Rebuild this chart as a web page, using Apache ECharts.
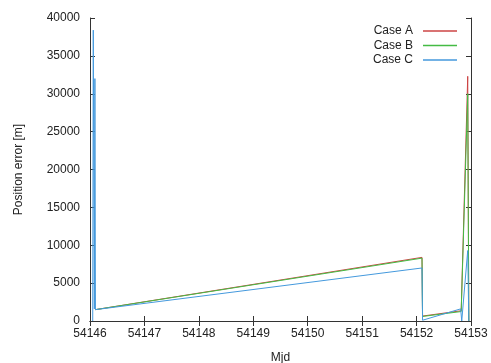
<!DOCTYPE html>
<html>
<head>
<meta charset="utf-8">
<script src="https://cdn.jsdelivr.net/npm/echarts@6/dist/echarts.min.js"></script>
<style>html,body{margin:0;padding:0;background:#fff}#c{width:491px;height:363px}</style>
</head>
<body>
<div id="c"></div>
<script>
const seriesNames = ['Case A', 'Case B', 'Case C'];
const colors = ['#cc4444', '#44bb44', '#4499dd'];
const xTicks = [54146, 54147, 54148, 54149, 54150, 54151, 54152, 54153];
const yTicks = [0, 5000, 10000, 15000, 20000, 25000, 30000, 35000, 40000];

const caseAMjd = [54146.10, 54152.10, 54152.11, 54152.82, 54152.94, 54152.96];
const caseAErr = [1500, 8400, 650, 1350, 32300, 0];
const caseBMjd = [54146.10, 54152.10, 54152.11, 54152.82, 54152.94, 54152.96];
const caseBErr = [1500, 8300, 600, 1250, 30000, 0];
const caseCMjd = [54146.05, 54146.06, 54146.08, 54146.09, 54146.10, 54152.10, 54152.11, 54152.81, 54152.83, 54152.94, 54152.96];
const caseCErr = [0, 38400, 1600, 32000, 1500, 7000, 100, 1600, 0, 9300, 0];

const zip = (a, b) => a.map((v, i) => [v, b[i]]);
const seriesData = [zip(caseAMjd, caseAErr), zip(caseBMjd, caseBErr), zip(caseCMjd, caseCErr)];

const font = 'Liberation Sans, Arial, sans-serif';
const textColor = '#222';
const frame = { show: true, lineStyle: { color: '#333', width: 1 } };
const tick = { show: true, inside: true, length: 5, lineStyle: { color: '#333' } };

const chart = echarts.init(document.getElementById('c'), null, { renderer: 'canvas' });
chart.setOption({
  animation: false,
  backgroundColor: '#fff',
  color: colors,
  grid: { left: 90, right: 20, top: 18, bottom: 42, outerBoundsMode: 'none', containLabel: false },
  legend: {
    orient: 'vertical',
    right: 29,
    top: 19,
    align: 'right',
    icon: 'rect',
    itemWidth: 34,
    itemHeight: 1.5,
    itemGap: 0.5,
    textStyle: { fontFamily: font, fontSize: 12, color: textColor, lineHeight: 14, padding: [0, 5, 0, 0] },
    data: seriesNames
  },
  xAxis: [{
    type: 'value', min: xTicks[0], max: xTicks[xTicks.length - 1], interval: 1,
    name: 'Mjd', nameLocation: 'middle', nameGap: 31,
    nameTextStyle: { fontFamily: font, fontSize: 12, color: textColor },
    axisLine: frame, axisTick: tick, splitLine: { show: false },
    axisLabel: { fontFamily: font, fontSize: 12, color: textColor, margin: 7, formatter: v => String(v) }
  }, {
    type: 'value', position: 'top', min: xTicks[0], max: xTicks[xTicks.length - 1], interval: 1,
    axisLine: frame, axisTick: tick, splitLine: { show: false }, axisLabel: { show: false }
  }],
  yAxis: [{
    type: 'value', min: yTicks[0], max: yTicks[yTicks.length - 1], interval: 5000,
    name: 'Position error [m]', nameLocation: 'middle', nameGap: 65, nameRotate: 90,
    nameTextStyle: { fontFamily: font, fontSize: 12, color: textColor },
    axisLine: frame, axisTick: tick, splitLine: { show: false },
    axisLabel: { fontFamily: font, fontSize: 12, color: textColor, margin: 10, formatter: v => String(v) }
  }, {
    type: 'value', position: 'right', min: yTicks[0], max: yTicks[yTicks.length - 1], interval: 5000,
    axisLine: frame, axisTick: tick, splitLine: { show: false }, axisLabel: { show: false }
  }],
  series: seriesNames.map((n, i) => ({
    name: n, type: 'line', data: seriesData[i], showSymbol: false, symbol: 'none',
    lineStyle: { width: 1, color: colors[i] }, itemStyle: { color: colors[i] }, z: 2 + i
  }))
});
</script>
</body>
</html>
